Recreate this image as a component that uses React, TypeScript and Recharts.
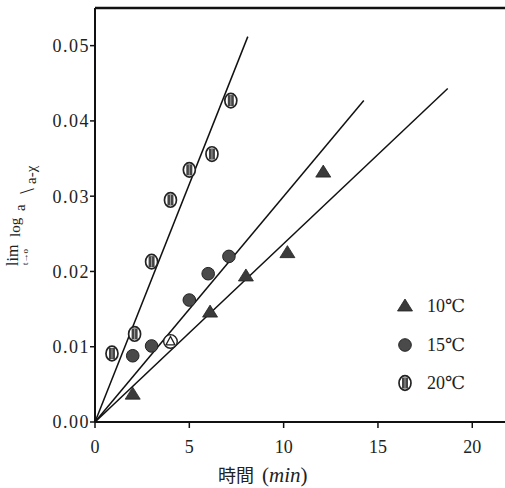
import {
  ScatterChart,
  Scatter,
  XAxis,
  YAxis,
  ReferenceLine,
} from "recharts";

// 時間 (min)
const time10 = [2.0, 4.0, 6.1, 8.0, 10.2, 12.1];
const time15 = [2.0, 3.0, 5.0, 6.0, 7.1];
const time20 = [0.9, 2.1, 3.0, 4.0, 5.0, 6.2, 7.2];

// lim log a/(a-χ)
const val10 = [0.0037, 0.0107, 0.0146, 0.0194, 0.0225, 0.0332];
const val15 = [0.0088, 0.0101, 0.0162, 0.0197, 0.022];
const val20 = [0.0091, 0.0117, 0.0213, 0.0295, 0.0335, 0.0356, 0.0427];

// fitted lines through the origin: [x, y] of the far end
const fitEnd10 = [18.7, 0.0443];
const fitEnd15 = [14.25, 0.0427];
const fitEnd20 = [8.1, 0.0512];

const xTicks = [0, 5, 10, 15, 20];
const yTicks = [0, 0.01, 0.02, 0.03, 0.04, 0.05];

const series = ["10℃", "15℃", "20℃"];

const toPoints = (xs: number[], ys: number[]) => xs.map((x, i) => ({ x, y: ys[i] }));
const fitLine = (end: number[]) => [
  { x: 0, y: 0 },
  { x: end[0], y: end[1] },
];

const serif = "'Liberation Serif', 'DejaVu Serif', serif";

function Triangle({ cx, cy }: { cx: number; cy: number }) {
  return (
    <polygon
      points={`${cx},${cy - 7} ${cx - 7.5},${cy + 5} ${cx + 7.5},${cy + 5}`}
      fill="#3a3a3a"
      stroke="#222"
      strokeWidth={0.8}
    />
  );
}

function Dot({ cx, cy }: { cx: number; cy: number }) {
  return <circle cx={cx} cy={cy} r={6.3} fill="#4a4a4a" stroke="#222" strokeWidth={1} />;
}

function Barred({ cx, cy }: { cx: number; cy: number }) {
  return (
    <g>
      <ellipse cx={cx} cy={cy} rx={6} ry={7.3} fill="#fff" stroke="#222" strokeWidth={1.7} />
      <rect x={cx - 3} y={cy - 5.5} width={6} height={11} fill="#444" />
      <line x1={cx} y1={cy - 5} x2={cx} y2={cy + 5} stroke="#ccc" strokeWidth={0.7} />
    </g>
  );
}

const markers = [Triangle, Dot, Barred];

function TriangleShape(props: any) {
  const { cx, cy, payload } = props;
  if (payload && payload.x === 4.0) {
    return (
      <g>
        <circle cx={cx} cy={cy} r={6.8} fill="#fff" stroke="#222" strokeWidth={1.4} />
        <polygon
          points={`${cx},${cy - 5} ${cx - 4.5},${cy + 3.5} ${cx + 4.5},${cy + 3.5}`}
          fill="#fff"
          stroke="#222"
          strokeWidth={1.3}
        />
      </g>
    );
  }
  return <Triangle cx={cx} cy={cy} />;
}

const noShape = () => <g />;

function LegendBox() {
  const rows = [306, 345, 383];
  return (
    <g>
      {series.map((name, i) => {
        const M = markers[i];
        return (
          <g key={name}>
            <M cx={405} cy={rows[i]} />
            <text
              x={427}
              y={rows[i]}
              dy="0.35em"
              fontFamily={serif}
              fontSize={18}
              fill="#222"
            >
              {name}
            </text>
          </g>
        );
      })}
    </g>
  );
}

function YLabel() {
  return (
    <g transform="translate(0,266) rotate(-90)" fontFamily={serif} fill="#222">
      <text x={0} y={18} fontSize={16}>lim</text>
      <text x={1} y={28} fontSize={9}>t→o</text>
      <text x={29} y={20} fontSize={15}>log</text>
      <text x={55} y={25} fontSize={15}>a</text>
      <g transform="translate(75,34) scale(-1,1)">
        <text x={0} y={0} textAnchor="middle" fontSize={20}>/</text>
      </g>
      <text x={82} y={36} fontSize={15}>a-χ</text>
    </g>
  );
}

function XLabel() {
  return (
    <g>
      <text x={218} y={482} fontSize={21} fill="#222" fontFamily={serif}>
        <tspan fontFamily="'Noto Sans CJK JP', sans-serif" fontSize={18}>時間</tspan>
        <tspan dx={8}>(</tspan>
        <tspan fontStyle="italic">min</tspan>
        <tspan>)</tspan>
      </text>
      <LegendBox />
    </g>
  );
}

export default function App() {
  return (
    <div style={{ position: "absolute", left: 0, top: 0, width: 505, height: 488, overflow: "hidden", background: "#fff" }}>
      <ScatterChart width={510} height={488} margin={{ top: 8, right: 0, bottom: 0, left: 0 }}>
        <XAxis
          type="number"
          dataKey="x"
          domain={[0, 22]}
          ticks={xTicks}
          allowDataOverflow
          height={66}
          tickSize={6}
          tickMargin={12}
          axisLine={{ stroke: "#111", strokeWidth: 2 }}
          tickLine={{ stroke: "#111", strokeWidth: 1.5 }}
          tick={{ fontSize: 18, fill: "#222", fontFamily: serif }}
          label={{ content: () => <XLabel /> }}
        />
        <YAxis
          type="number"
          dataKey="y"
          domain={[0, 0.055]}
          ticks={yTicks}
          allowDataOverflow
          width={95}
          tickSize={5}
          tickMargin={0}
          tickFormatter={(v: number) => v.toFixed(2)}
          axisLine={{ stroke: "#111", strokeWidth: 2 }}
          tickLine={{ stroke: "#111", strokeWidth: 1.5 }}
          tick={{ fontSize: 18, fill: "#222", fontFamily: serif, letterSpacing: 1.5 }}
          label={{ content: () => <YLabel /> }}
        />
        <ReferenceLine y={0.055} stroke="#111" strokeWidth={2.5} />
        <Scatter
          data={fitLine(fitEnd10)}
          line={{ stroke: "#111", strokeWidth: 1.5 }}
          shape={noShape}
          isAnimationActive={false}
        />
        <Scatter
          data={fitLine(fitEnd15)}
          line={{ stroke: "#111", strokeWidth: 1.5 }}
          shape={noShape}
          isAnimationActive={false}
        />
        <Scatter
          data={fitLine(fitEnd20)}
          line={{ stroke: "#111", strokeWidth: 1.5 }}
          shape={noShape}
          isAnimationActive={false}
        />
        <Scatter name={series[0]} data={toPoints(time10, val10)} shape={TriangleShape} isAnimationActive={false} />
        <Scatter name={series[1]} data={toPoints(time15, val15)} shape={(p: any) => <Dot cx={p.cx} cy={p.cy} />} isAnimationActive={false} />
        <Scatter name={series[2]} data={toPoints(time20, val20)} shape={(p: any) => <Barred cx={p.cx} cy={p.cy} />} isAnimationActive={false} />
      </ScatterChart>
    </div>
  );
}
